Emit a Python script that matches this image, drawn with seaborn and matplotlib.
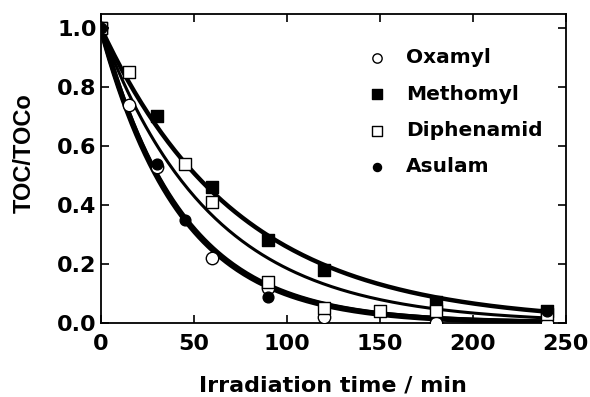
import numpy as np
import pandas as pd
import matplotlib
matplotlib.use("Agg")
import matplotlib.pyplot as plt
import seaborn as sns

# data (TOC/TOCo vs irradiation time)
oxamyl_t = [0, 15, 30, 60, 90, 120, 180, 240]
oxamyl_y = [1.0, 0.74, 0.53, 0.22, 0.12, 0.02, 0.0, 0.0]
methomyl_t = [0, 30, 60, 90, 120, 180, 240]
methomyl_y = [1.0, 0.70, 0.46, 0.28, 0.18, 0.07, 0.04]
diphenamid_t = [0, 15, 45, 60, 90, 120, 150, 180, 240]
diphenamid_y = [1.0, 0.85, 0.54, 0.41, 0.14, 0.05, 0.04, 0.04, 0.03]
asulam_t = [0, 30, 45, 90, 240]
asulam_y = [1.0, 0.54, 0.35, 0.09, 0.04]

names = ["Oxamyl", "Methomyl", "Diphenamid", "Asulam"]
series = {
    "Oxamyl": (oxamyl_t, oxamyl_y),
    "Methomyl": (methomyl_t, methomyl_y),
    "Diphenamid": (diphenamid_t, diphenamid_y),
    "Asulam": (asulam_t, asulam_y),
}
markers = {"Oxamyl": "o", "Methomyl": "s", "Diphenamid": "s", "Asulam": "o"}
faces = {"Oxamyl": "white", "Methomyl": "black", "Diphenamid": "white", "Asulam": "black"}
sizes = {"Oxamyl": 80, "Methomyl": 80, "Diphenamid": 80, "Asulam": 60}
line_w = {"Oxamyl": 4.0, "Methomyl": 3.2, "Diphenamid": 2.2, "Asulam": 3.5}


def fit_k(t, y):
    # least squares first-order decay y = exp(-k t)
    t = np.asarray(t, float)
    y = np.asarray(y, float)
    ks = np.linspace(0.001, 0.05, 5000)
    err = [np.sum((np.exp(-k * t) - y) ** 2) for k in ks]
    return ks[int(np.argmin(err))]


rows = []
fits = []
tt = np.linspace(0, 240, 200)
for name in names:
    t, y = series[name]
    for a, b in zip(t, y):
        rows.append({"time": a, "toc": b, "compound": name})
    k = fit_k(t, y)
    for a in tt:
        fits.append({"time": a, "toc": np.exp(-k * a), "compound": name})
df = pd.DataFrame(rows)
fit_df = pd.DataFrame(fits)

sns.set_style("ticks")
plt.rcParams["font.family"] = ["DejaVu Sans"]
plt.rcParams["font.weight"] = "bold"
plt.rcParams["text.color"] = "black"
plt.rcParams["axes.labelcolor"] = "black"
plt.rcParams["xtick.color"] = "black"
plt.rcParams["ytick.color"] = "black"

fig = plt.figure(figsize=(5.9, 3.97), dpi=100)
ax = fig.add_axes([0.171, 0.186, 0.788, 0.779])

for name in names:
    sns.lineplot(data=fit_df[fit_df["compound"] == name], x="time", y="toc",
                 color="black", lw=line_w[name], ax=ax, legend=False, zorder=2)
for name in names:
    sns.scatterplot(data=df[df["compound"] == name], x="time", y="toc",
                    marker=markers[name], s=sizes[name], facecolor=faces[name],
                    edgecolor="black", linewidth=1.0, ax=ax, label=name, zorder=3)

ax.set_xlim(0, 250)
ax.set_ylim(0, 1.047)
ax.set_xticks([0, 50, 100, 150, 200, 250])
ax.set_yticks([0.0, 0.2, 0.4, 0.6, 0.8, 1.0])
ax.set_yticklabels(["0.0", "0.2", "0.4", "0.6", "0.8", "1.0"])
ax.tick_params(direction="in", top=True, right=True, length=6, width=1.2,
               labelsize=16, colors="black")
ax.tick_params(axis="x", pad=8)
ax.tick_params(axis="y", pad=3)
for sp in ax.spines.values():
    sp.set_linewidth(1.3)
    sp.set_color("black")

ax.set_xlabel("Irradiation time / min", fontsize=16, fontweight="bold")
ax.xaxis.set_label_coords(0.5, -0.17)
ax.set_ylabel("TOC/TOCo", fontsize=17, fontweight="bold",
              family="Liberation Sans")
ax.yaxis.set_label_coords(-0.14, 0.55)

leg = ax.legend(loc="upper left", bbox_to_anchor=(0.55, 0.915), frameon=False,
                fontsize=14.5, markerscale=0.75, handletextpad=0.85,
                handlelength=1.2, labelspacing=0.86, borderaxespad=0)
for txt in leg.get_texts():
    txt.set_fontweight("bold")
    txt.set_color("black")

fig.savefig("out.png", dpi=100)
